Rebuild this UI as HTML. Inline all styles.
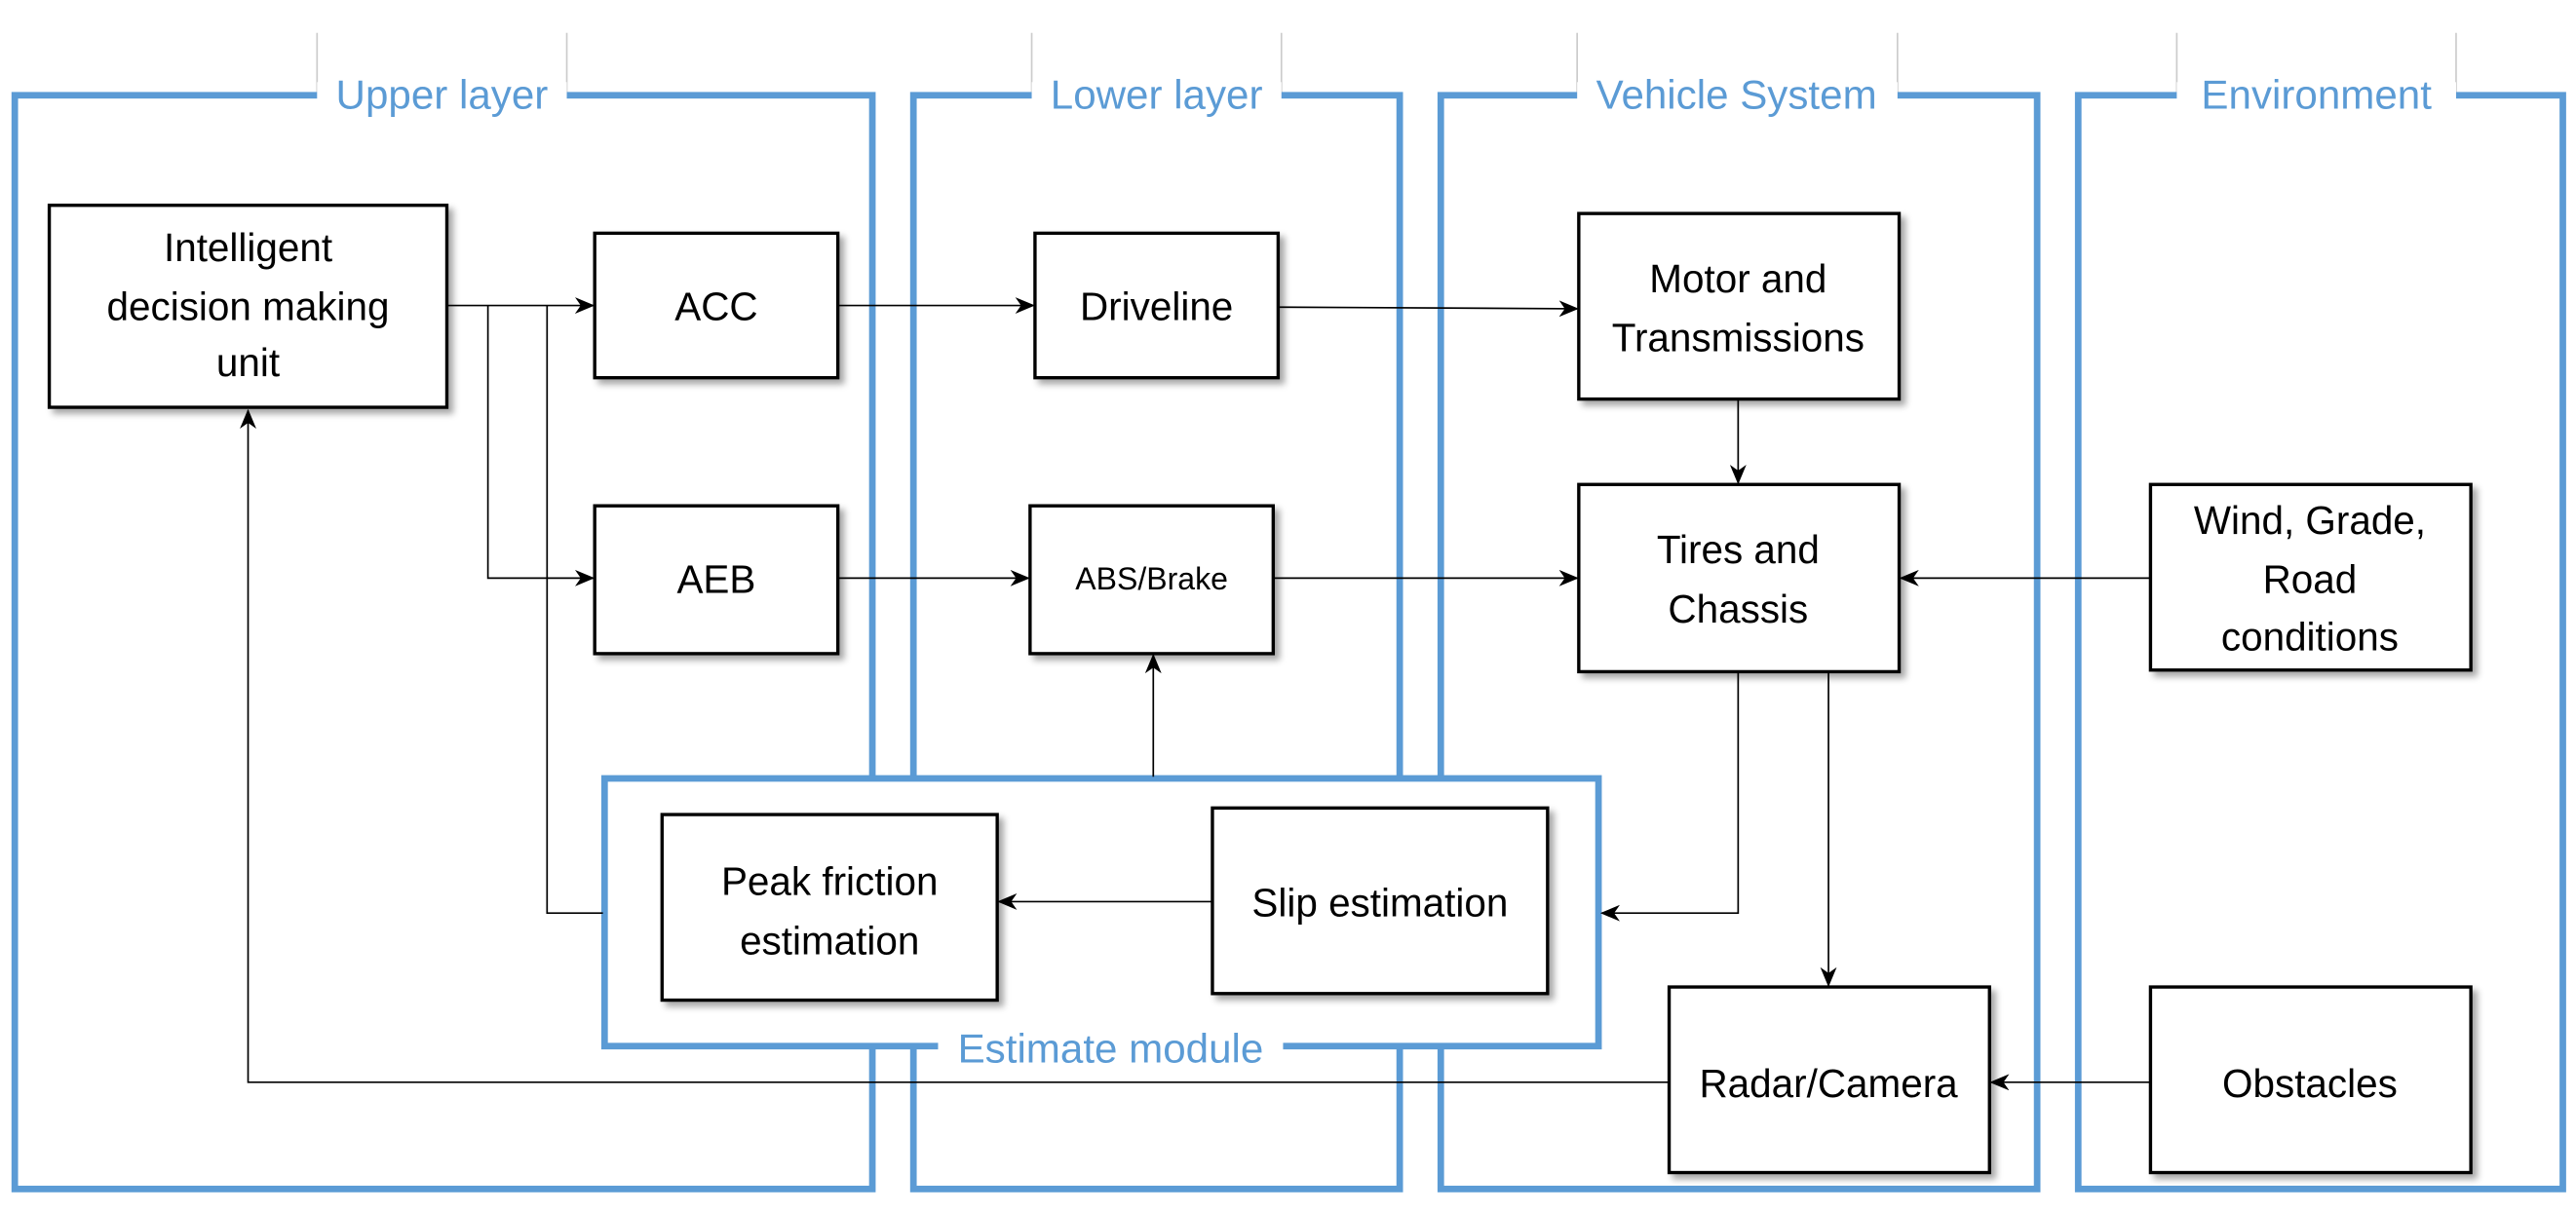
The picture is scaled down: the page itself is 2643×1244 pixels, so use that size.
<!DOCTYPE html>
<html><head><meta charset="utf-8"><style>html,body{margin:0;padding:0;background:#fff}svg{display:block}</style></head>
<body>
<svg width="2643" height="1244" viewBox="0 0 1568 738" xmlns="http://www.w3.org/2000/svg" font-family="Liberation Sans, sans-serif">
<defs>
<marker id="a" viewBox="0 0 12 10" markerWidth="12" markerHeight="10" refX="11" refY="5" orient="auto" markerUnits="userSpaceOnUse">
<path d="M0,0 L12,5 L0,10 L3.5,5 z" fill="#000"/></marker>
<filter id="s" x="-10%" y="-10%" width="130%" height="130%"><feDropShadow dx="3" dy="3" stdDeviation="2" flood-color="#000" flood-opacity="0.35"/></filter>
</defs>
<g stroke="#ccc" stroke-width="1">
<line x1="193" y1="20" x2="193" y2="57"/><line x1="345" y1="20" x2="345" y2="57"/>
<line x1="628" y1="20" x2="628" y2="57"/><line x1="780" y1="20" x2="780" y2="57"/>
<line x1="960" y1="20" x2="960" y2="57"/><line x1="1155" y1="20" x2="1155" y2="57"/>
<line x1="1325" y1="20" x2="1325" y2="57"/><line x1="1495" y1="20" x2="1495" y2="57"/>
</g>
<g fill="none" stroke="#5b9bd5" stroke-width="4">
<rect x="9" y="58" width="522" height="666"/>
<rect x="556" y="58" width="296" height="666"/>
<rect x="877" y="58" width="363" height="666"/>
<rect x="1265" y="58" width="295" height="666"/>
</g>
<g fill="#fff">
<rect x="193" y="50" width="152" height="16"/><rect x="628" y="50" width="152" height="16"/>
<rect x="960" y="50" width="195" height="16"/><rect x="1325" y="50" width="170" height="16"/>
</g>
<g fill="#5b9bd5" font-size="25" text-anchor="middle">
<text x="269" y="66">Upper layer</text><text x="704" y="66">Lower layer</text>
<text x="1057" y="66">Vehicle System</text><text x="1410" y="66">Environment</text>
</g>
<g fill="none" stroke="#000" stroke-width="1">
<polyline points="1016,659 151,659 151,250" marker-end="url(#a)"/>
</g>
<rect x="368" y="474" width="605" height="163" fill="#fff" stroke="#5b9bd5" stroke-width="4"/>
<rect x="571" y="628" width="210" height="20" fill="#fff"/>
<text x="676" y="647" fill="#5b9bd5" font-size="25" text-anchor="middle">Estimate module</text>
<g fill="none" stroke="#000" stroke-width="1">
<line x1="272" y1="186" x2="361" y2="186" marker-end="url(#a)"/>
<polyline points="297,186 297,352 361,352" marker-end="url(#a)"/>
<polyline points="333,186 333,556 367,556"/>
<line x1="510" y1="186" x2="629" y2="186" marker-end="url(#a)"/>
<line x1="778" y1="187" x2="960" y2="188" marker-end="url(#a)"/>
<line x1="1058" y1="243" x2="1058" y2="294" marker-end="url(#a)"/>
<line x1="510" y1="352" x2="626" y2="352" marker-end="url(#a)"/>
<line x1="775" y1="352" x2="960" y2="352" marker-end="url(#a)"/>
<line x1="1309" y1="352" x2="1157" y2="352" marker-end="url(#a)"/>
<line x1="702" y1="473" x2="702" y2="399" marker-end="url(#a)"/>
<polyline points="1058,409 1058,556 975,556" marker-end="url(#a)"/>
<line x1="1113" y1="409" x2="1113" y2="600" marker-end="url(#a)"/>
<line x1="738" y1="549" x2="608" y2="549" marker-end="url(#a)"/>
<line x1="1309" y1="659" x2="1212" y2="659" marker-end="url(#a)"/>
</g>
<g fill="#fff" stroke="#000" stroke-width="2" filter="url(#s)">
<rect x="30" y="125" width="242" height="123"/>
<rect x="362" y="142" width="148" height="88"/>
<rect x="362" y="308" width="148" height="90"/>
<rect x="630" y="142" width="148" height="88"/>
<rect x="627" y="308" width="148" height="90"/>
<rect x="961" y="130" width="195" height="113"/>
<rect x="961" y="295" width="195" height="114"/>
<rect x="1309" y="295" width="195" height="113"/>
<rect x="403" y="496" width="204" height="113"/>
<rect x="738" y="492" width="204" height="113"/>
<rect x="1016" y="601" width="195" height="113"/>
<rect x="1309" y="601" width="195" height="113"/>
</g>
<g fill="#000" font-size="24" text-anchor="middle">
<text x="151" y="159">Intelligent</text><text x="151" y="195">decision making</text><text x="151" y="229">unit</text>
<text x="436" y="195">ACC</text>
<text x="436" y="361">AEB</text>
<text x="704" y="195">Driveline</text>
<text x="701" y="359" font-size="19">ABS/Brake</text>
<text x="1058" y="178">Motor and</text><text x="1058" y="214">Transmissions</text>
<text x="1058" y="343">Tires and</text><text x="1058" y="379">Chassis</text>
<text x="1406" y="325">Wind, Grade,</text><text x="1406" y="361">Road</text><text x="1406" y="396">conditions</text>
<text x="505" y="545">Peak friction</text><text x="505" y="581">estimation</text>
<text x="840" y="558">Slip estimation</text>
<text x="1113" y="668">Radar/Camera</text>
<text x="1406" y="668">Obstacles</text>
</g>
</svg>
</body></html>
